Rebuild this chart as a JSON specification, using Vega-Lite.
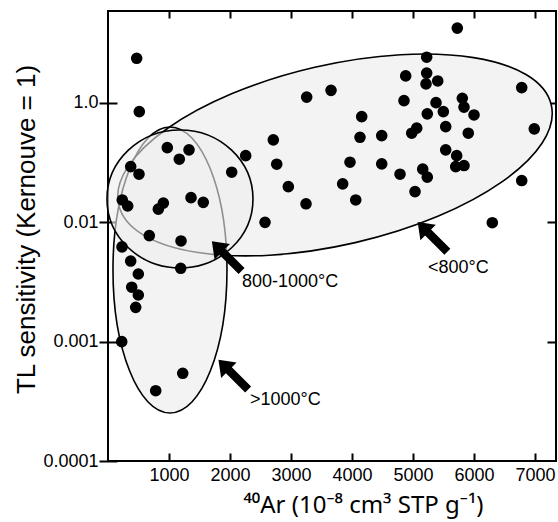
{
  "$schema": "https://vega.github.io/schema/vega-lite/v6.json",
  "autosize": {"type": "none"},
  "padding": {"left": 108, "top": 11, "right": 2, "bottom": 61},
  "width": 448,
  "height": 450,
  "background": "white",
  "config": {
    "view": {"stroke": "black", "strokeWidth": 2},
    "axis": {"domain": false, "grid": false, "tickColor": "black", "tickWidth": 2, "labelColor": "black", "labelFont": "Liberation Sans", "labelFontSize": 18, "titleFont": "Liberation Sans", "titleColor": "black", "titleFontWeight": "normal"}
  },
  "resolve": {"axis": {"x": "independent", "y": "independent"}},
  "layer": [
    {
      "data": {"values": [{"x": 3721, "y": 0.0367}]},
      "mark": {"type": "point", "shape": "M 1 0 C 1 0.2239 0.5523 0.4054 0 0.4054 C -0.5523 0.4054 -1 0.2239 -1 0 C -1 -0.2239 -0.5523 -0.4054 0 -0.4054 C 0.5523 -0.4054 1 -0.2239 1 0 Z", "size": 197136, "angle": -13, "filled": true, "fill": "#f3f3f3", "strokeWidth": 0, "opacity": 1},
      "encoding": {
        "x": {"field": "x", "type": "quantitative", "scale": {"domain": [0, 7344], "nice": false, "zero": false}, "axis": {"orient": "top", "values": [1000, 2000, 3000, 4000, 5000, 6000, 7000], "offset": -7, "tickSize": 7, "labels": false, "title": null}},
        "y": {"field": "y", "type": "quantitative", "scale": {"type": "log", "domain": [0.0001, 0.59], "nice": false}, "axis": {"orient": "right", "values": [0.001, 0.01, 0.1], "offset": -9, "tickSize": 9, "labels": false, "title": null}}
      }
    },
    {
      "data": {"values": [{"x": 1016, "y": 0.00399}]},
      "mark": {"type": "point", "shape": "M 0.3986 0 C 0.3986 0.5523 0.2201 1 0 1 C -0.2201 1 -0.3986 0.5523 -0.3986 0 C -0.3986 -0.5523 -0.2201 -1 0 -1 C 0.2201 -1 0.3986 -0.5523 0.3986 0 Z", "size": 81796, "filled": true, "fill": "#f3f3f3", "strokeWidth": 0, "opacity": 1},
      "encoding": {
        "x": {"field": "x", "type": "quantitative", "axis": null},
        "y": {"field": "y", "type": "quantitative", "axis": null}
      }
    },
    {
      "data": {"values": [{"x": 3721, "y": 0.0367}]},
      "mark": {"type": "point", "shape": "M 1 0 C 1 0.2239 0.5523 0.4054 0 0.4054 C -0.5523 0.4054 -1 0.2239 -1 0 C -1 -0.2239 -0.5523 -0.4054 0 -0.4054 C 0.5523 -0.4054 1 -0.2239 1 0 Z", "size": 197136, "angle": -13, "filled": false, "stroke": "black", "strokeWidth": 1.6, "opacity": 1},
      "encoding": {
        "x": {"field": "x", "type": "quantitative", "axis": null},
        "y": {"field": "y", "type": "quantitative", "axis": null}
      }
    },
    {
      "data": {"values": [{"x": 1016, "y": 0.00399}]},
      "mark": {"type": "point", "shape": "M 0.3986 0 C 0.3986 0.5523 0.2201 1 0 1 C -0.2201 1 -0.3986 0.5523 -0.3986 0 C -0.3986 -0.5523 -0.2201 -1 0 -1 C 0.2201 -1 0.3986 -0.5523 0.3986 0 Z", "size": 81796, "filled": false, "stroke": "black", "strokeWidth": 1.6, "opacity": 1},
      "encoding": {
        "x": {"field": "x", "type": "quantitative", "axis": null},
        "y": {"field": "y", "type": "quantitative", "axis": null}
      }
    },
    {
      "data": {"values": [{"x": 1180, "y": 0.0157}]},
      "mark": {"type": "point", "shape": "M 1 0 C 1 0.5219 0.5523 0.945 0 0.945 C -0.5523 0.945 -1 0.5219 -1 0 C -1 -0.5219 -0.5523 -0.945 0 -0.945 C 0.5523 -0.945 1 -0.5219 1 0 Z", "size": 21316, "filled": true, "fill": "#efefef", "fillOpacity": 0.6, "stroke": "black", "strokeWidth": 1.6, "strokeOpacity": 1, "opacity": 1},
      "encoding": {
        "x": {"field": "x", "type": "quantitative", "axis": null},
        "y": {"field": "y", "type": "quantitative", "axis": null}
      }
    },
    {
      "data": {"values": [
        {"x": 470, "y": 0.237}, {"x": 513, "y": 0.0847}, {"x": 972, "y": 0.0423}, {"x": 1328, "y": 0.0405},
        {"x": 1169, "y": 0.0338}, {"x": 2257, "y": 0.0362}, {"x": 2710, "y": 0.0491}, {"x": 2766, "y": 0.0307},
        {"x": 372, "y": 0.0293}, {"x": 508, "y": 0.0253}, {"x": 2028, "y": 0.0263}, {"x": 2956, "y": 0.0199},
        {"x": 234, "y": 0.0154}, {"x": 323, "y": 0.0137}, {"x": 907, "y": 0.0145}, {"x": 825, "y": 0.0129},
        {"x": 1361, "y": 0.0161}, {"x": 1562, "y": 0.0147}, {"x": 3246, "y": 0.0143}, {"x": 2574, "y": 0.0100},
        {"x": 3257, "y": 0.112}, {"x": 3656, "y": 0.1277}, {"x": 677, "y": 0.00774}, {"x": 1197, "y": 0.00698},
        {"x": 230, "y": 0.00622}, {"x": 372, "y": 0.00474}, {"x": 497, "y": 0.00369}, {"x": 1192, "y": 0.00412},
        {"x": 389, "y": 0.00286}, {"x": 497, "y": 0.00246}, {"x": 454, "y": 0.00194}, {"x": 225, "y": 0.00100},
        {"x": 1225, "y": 0.000543}, {"x": 782, "y": 0.000388}, {"x": 5726, "y": 0.424}, {"x": 5224, "y": 0.242},
        {"x": 4880, "y": 0.1686}, {"x": 5224, "y": 0.178}, {"x": 5213, "y": 0.1445}, {"x": 5405, "y": 0.153},
        {"x": 6782, "y": 0.1346}, {"x": 4852, "y": 0.1047}, {"x": 5377, "y": 0.1007}, {"x": 5808, "y": 0.1096},
        {"x": 5497, "y": 0.0847}, {"x": 5836, "y": 0.0923}, {"x": 5234, "y": 0.0811}, {"x": 6000, "y": 0.0794},
        {"x": 4159, "y": 0.0769}, {"x": 5536, "y": 0.0634}, {"x": 5061, "y": 0.0615}, {"x": 4979, "y": 0.0558},
        {"x": 6988, "y": 0.0607}, {"x": 4131, "y": 0.0516}, {"x": 4487, "y": 0.0533}, {"x": 5906, "y": 0.0558},
        {"x": 5536, "y": 0.0405}, {"x": 5716, "y": 0.0362}, {"x": 5700, "y": 0.0293}, {"x": 5836, "y": 0.0299},
        {"x": 3967, "y": 0.0319}, {"x": 4487, "y": 0.0309}, {"x": 5159, "y": 0.0279}, {"x": 5234, "y": 0.0239},
        {"x": 4787, "y": 0.0253}, {"x": 3847, "y": 0.0210}, {"x": 6782, "y": 0.0224}, {"x": 5033, "y": 0.0181},
        {"x": 4061, "y": 0.0154}, {"x": 6300, "y": 0.00993}
      ]},
      "mark": {"type": "circle", "size": 135, "color": "black", "opacity": 1},
      "encoding": {
        "x": {"field": "x", "type": "quantitative", "axis": {"orient": "bottom", "values": [1000, 2000, 3000, 4000, 5000, 6000, 7000], "format": "d", "offset": -8, "tickSize": 8, "labelPadding": 5, "title": "⁴⁰Ar (10⁻⁸ cm³ STP g⁻¹)", "titleFont": "Noto Sans", "titleFontSize": 24, "titlePadding": 9, "titleX": 255}},
        "y": {"field": "y", "type": "quantitative", "axis": {"orient": "left", "values": [0.0001, 0.001, 0.01, 0.1], "offset": -9, "tickSize": 18, "labelPadding": 1, "labelExpr": "datum.value > 0.05 ? '1.0' : datum.value > 0.005 ? '0.01' : datum.value > 0.0005 ? '0.001' : '0.0001'", "title": "TL sensitivity (Kernouve = 1)", "titleFontSize": 26, "titlePadding": 3, "titleY": 218}}
      }
    },
    {
      "data": {"values": [{"x": 5320, "y": 0.00755}, {"x": 1946, "y": 0.00521}, {"x": 2054, "y": 0.000529}]},
      "mark": {"type": "point", "shape": "M 0 -1 L 0.52 -0.3 L 0.2 -0.3 L 0.2 1 L -0.2 1 L -0.2 -0.3 L -0.52 -0.3 Z", "size": 1764, "angle": -45, "filled": true, "fill": "black", "strokeWidth": 0, "opacity": 1},
      "encoding": {
        "x": {"field": "x", "type": "quantitative", "axis": null},
        "y": {"field": "y", "type": "quantitative", "axis": null}
      }
    },
    {
      "data": {"values": [{"x": 5246, "y": 0.00415, "label": "<800°C"}, {"x": 2197, "y": 0.00316, "label": "800-1000°C"}, {"x": 2328, "y": 0.000324, "label": ">1000°C"}]},
      "mark": {"type": "text", "align": "left", "baseline": "middle", "font": "Liberation Sans", "fontSize": 18, "color": "black"},
      "encoding": {
        "x": {"field": "x", "type": "quantitative", "axis": null},
        "y": {"field": "y", "type": "quantitative", "axis": null},
        "text": {"field": "label"}
      }
    }
  ]
}
